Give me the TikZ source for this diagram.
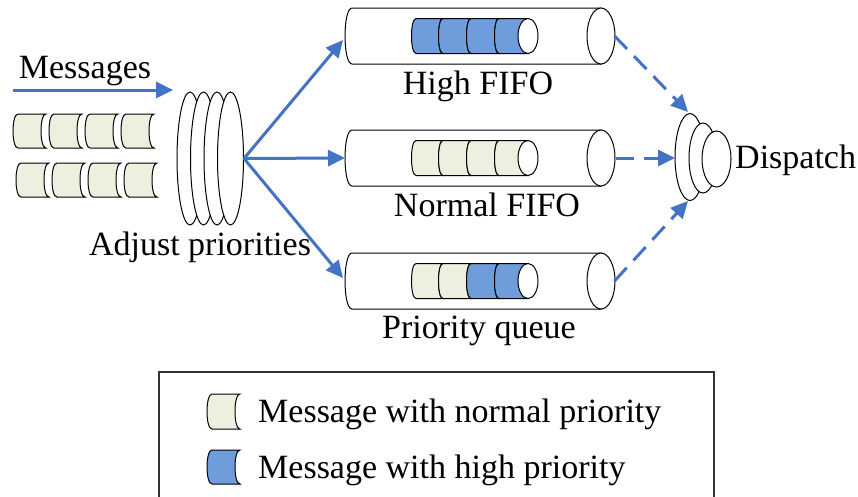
\documentclass[tikz,border=0pt]{standalone}
\usepackage{fontspec}
\setmainfont{Liberation Serif}
\usetikzlibrary{arrows.meta,shapes.geometric}

\definecolor{flowblue}{HTML}{4472C4}
\definecolor{normalmsg}{HTML}{EBF1DE}
\definecolor{highmsg}{HTML}{6F9CDA}

% message slice: top-left x, top y, width, height, bulge, fill
\newcommand\msgslice[6]{%
  \pgfmathsetmacro\qXr{#1+#3}%
  \pgfmathsetmacro\qYb{#2+#4}%
  \pgfmathsetmacro\qCl{#1-1.333*#5}%
  \pgfmathsetmacro\qCr{#1+#3-1.333*#5}%
  \draw[outline,fill=#6] (#1,#2) -- (\qXr,#2)
    .. controls (\qCr,#2) and (\qCr,\qYb) .. (\qXr,\qYb)
    -- (#1,\qYb) .. controls (\qCl,\qYb) and (\qCl,#2) .. (#1,#2) -- cycle;}

% pipe with its open right end: centre y
\newcommand\pipe[1]{%
  \pgfmathsetmacro\pT{#1-28}%
  \pgfmathsetmacro\pB{#1+28}%
  \draw[outline,fill=white] (352,\pT) -- (601,\pT) -- (601,\pB) -- (352,\pB)
    .. controls (342.7,\pB) and (342.7,\pT) .. (352,\pT) -- cycle;}

% row of four stored messages inside a pipe: centre y, four fills
\newcommand\storedmsgs[5]{%
  \pgfmathsetmacro\sT{#1-17.5}%
  \msgslice{416}{\sT}{27}{35}{4.5}{#2}%
  \msgslice{443}{\sT}{28}{35}{4.5}{#3}%
  \msgslice{471}{\sT}{28}{35}{4.5}{#4}%
  \msgslice{499}{\sT}{29}{35}{4.5}{#5}%
  \draw[outline,fill=white] (528,#1) ellipse [x radius=10, y radius=17.5];}

\begin{document}
\begin{tikzpicture}[x=1pt,y=-1pt,
  outline/.style={draw=black,line width=1pt},
  disc/.style={ellipse,draw=black,line width=1pt,fill=white,inner sep=0pt},
  flow/.style={draw=flowblue,line width=3pt,-{Triangle[length=17pt,width=16pt]}},
  flowdash/.style={flow,dash pattern=on 18pt off 10pt},
  lbl/.style={font=\fontsize{34}{40}\selectfont,inner sep=0pt,anchor=base}]
\useasboundingbox (0,0) rectangle (858,496);

% incoming messages
\node[lbl] (msgtxt) at (85,78) {Messages};
\coordinate (msgstart) at (13,90);
\coordinate (msgend) at (173,90);
\draw[flow] (msgstart) -- (msgend);

\foreach \x in {18,54,90,126} {\msgslice{\x}{114}{28}{34}{5}{normalmsg}}
\foreach \x in {21,57,93,129} {\msgslice{\x}{163}{28}{34}{5}{normalmsg}}

% priority adjuster
\node[disc,minimum width=26pt,minimum height=133pt] (adj1) at (190,158.5) {};
\node[disc,minimum width=26pt,minimum height=133pt] (adj2) at (203.5,158.5) {};
\node[disc,minimum width=26pt,minimum height=133pt] (adj3) at (217,158.5) {};
\node[disc,minimum width=26pt,minimum height=133pt] (adj4) at (230.5,158.5) {};
\node[lbl] (adjtxt) at (200,255) {Adjust priorities};

% the three queues
\pipe{36}
\storedmsgs{36}{highmsg}{highmsg}{highmsg}{highmsg}
\node[disc,minimum width=28pt,minimum height=56pt] (hiend) at (601,36) {};
\node[lbl] (hitxt) at (478,94) {High FIFO};

\pipe{158}
\storedmsgs{158}{normalmsg}{normalmsg}{normalmsg}{normalmsg}
\node[disc,minimum width=28pt,minimum height=56pt] (noend) at (601,158) {};
\node[lbl] (notxt) at (487,216) {Normal FIFO};

\pipe{281}
\storedmsgs{281}{normalmsg}{normalmsg}{highmsg}{highmsg}
\node[disc,minimum width=28pt,minimum height=56pt] (prend) at (601,281) {};
\node[lbl] (prtxt) at (479,338) {Priority queue};

\coordinate (hiin) at (343,40);
\coordinate (noin) at (345,158);
\coordinate (prin) at (343,278);
\draw[flow] (adj4.east) -- (hiin);
\draw[flow] (adj4.east) -- (noin);
\draw[flow] (adj4.east) -- (prin);

% dispatcher
\node[disc,minimum width=30pt,minimum height=87pt] (dsp1) at (690,157) {};
\node[disc,minimum width=28pt,minimum height=70pt] (dsp2) at (703,158) {};
\node[disc,minimum width=29pt,minimum height=56pt] (dsp3) at (716.5,159) {};
\node[lbl,anchor=base west] (dsptxt) at (735,168) {Dispatch};

\coordinate (dsptop) at (688,112);
\coordinate (dspmid) at (675,158);
\coordinate (dspbot) at (688,201);
\draw[flowdash] (hiend.east) ++(-1,0) -- (dsptop);
\draw[flowdash] (noend.east) -- (dspmid);
\draw[flowdash] (prend.east) ++(-1,0) -- (dspbot);

% legend
\draw[draw=black!80,line width=1.2pt] (159,372) rectangle (714,520);
\msgslice{212}{394}{28}{35}{5}{normalmsg}
\node[lbl,anchor=base west] (lgnormal) at (258,422) {Message with normal priority};
\msgslice{212}{450}{28}{34}{5}{highmsg}
\node[lbl,anchor=base west] (lghigh) at (258,478) {Message with high priority};
\end{tikzpicture}
\end{document}
